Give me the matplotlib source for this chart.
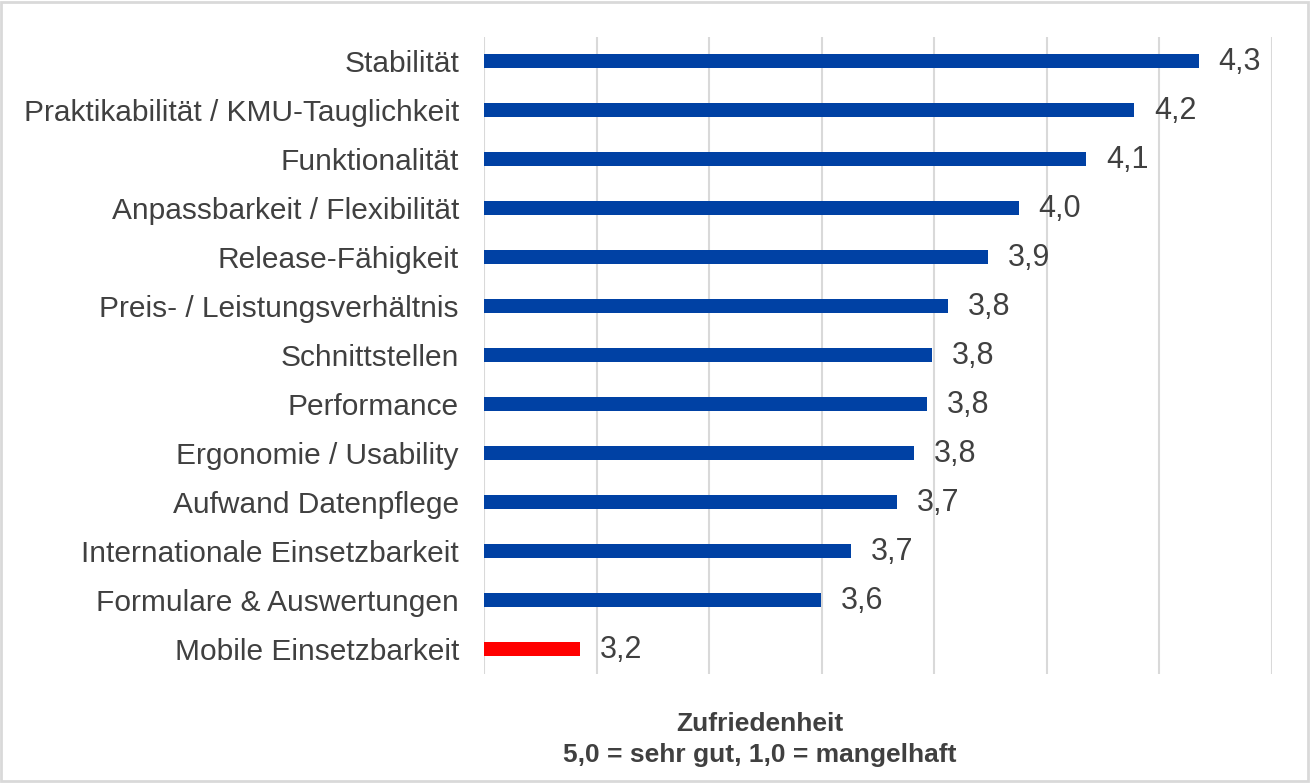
import matplotlib
matplotlib.use("Agg")
import matplotlib.pyplot as plt
from matplotlib.patches import Rectangle

categories = ["Stabilität", "Praktikabilität / KMU-Tauglichkeit", "Funktionalität",
              "Anpassbarkeit / Flexibilität", "Release-Fähigkeit",
              "Preis- / Leistungsverhältnis", "Schnittstellen", "Performance",
              "Ergonomie / Usability", "Aufwand Datenpflege",
              "Internationale Einsetzbarkeit", "Formulare & Auswertungen",
              "Mobile Einsetzbarkeit"]
values = [4.27, 4.155, 4.07, 3.95, 3.895, 3.825, 3.796, 3.787, 3.764, 3.734,
          3.652, 3.599, 3.171]
labels = ["4,3", "4,2", "4,1", "4,0", "3,9", "3,8", "3,8", "3,8", "3,8", "3,7",
          "3,7", "3,6", "3,2"]
colors = ["#0041A4"] * 12 + ["#FF0000"]

plt.rcParams['font.family'] = ['Liberation Sans', 'DejaVu Sans']

fig = plt.figure(figsize=(13.11, 7.83), dpi=100)
ax = fig.add_axes([484 / 1311, 1 - 673.5 / 783, (1272 - 484) / 1311, (673.5 - 36.5) / 783])

ypos = list(range(len(categories)))
ax.barh(ypos, values, left=0, height=0.3, color=colors, zorder=3)
for y, v, t in zip(ypos, values, labels):
    ax.text(v + 0.035, y + 0.02, t, va='center', ha='left', fontsize=22, color='#404040')

ax.set_xlim(3.0, 4.4)
ax.set_ylim(len(categories) - 0.5, -0.5)
ax.set_xticks([3.0 + 0.2 * i for i in range(8)])
ax.set_xticklabels([])
ax.tick_params(axis='x', length=0)
ax.set_yticks(ypos)
ax.set_yticklabels(categories, fontsize=21.5, color='#404040')
ax.tick_params(axis='y', length=0, pad=18)
ax.grid(axis='x', color='#D9D9D9', linewidth=1.5, zorder=0)
for s in ax.spines.values():
    s.set_visible(False)

fig.text(760 / 1311, 1 - 724 / 783, "Zufriedenheit", ha='center', va='center',
         fontsize=19, fontweight='bold', color='#404040')
fig.text(760 / 1311, 1 - 755 / 783, "5,0 = sehr gut, 1,0 = mangelhaft", ha='center',
         va='center', fontsize=19, fontweight='bold', color='#404040')

fig.patches.append(Rectangle((0.001, 0.002), 0.997, 0.996, transform=fig.transFigure,
                             fill=False, edgecolor='#D9D9D9', linewidth=2))

fig.savefig("out.png", dpi=100)
